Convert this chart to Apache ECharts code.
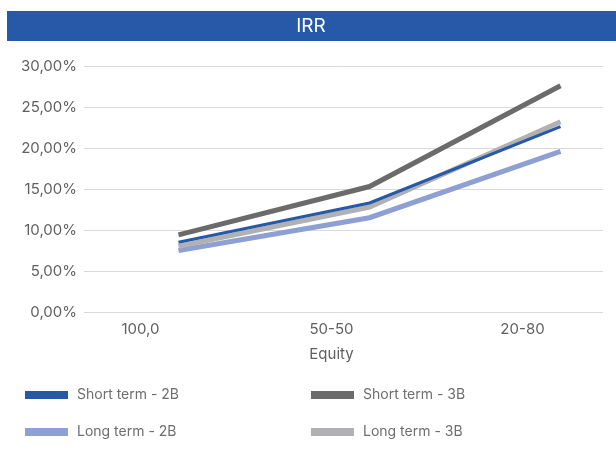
<!DOCTYPE html>
<html>
<head>
<meta charset="utf-8">
<script src="https://cdn.jsdelivr.net/npm/echarts@6/dist/echarts.min.js"></script>
<style>
  html, body { margin: 0; padding: 0; background: #fff; }
  #chart { width: 616px; height: 454px; }
</style>
</head>
<body>
<div id="chart"></div>
<script>
  // data, in percent
  const categories = ['100,0', '50-50', '20-80']
  const shortTerm2B = [8.5, 13.3, 22.6]
  const shortTerm3B = [9.4, 15.3, 27.6]
  const longTerm2B = [7.5, 11.5, 19.6]
  const longTerm3B = [8.0, 12.8, 23.2]
  const yTicks = { min: 0, max: 30, interval: 5 }

  const font = 'Inter'
  const ec = echarts.init(document.getElementById('chart'))

  const line = (name, data, color, width, z) => ({
    name: name,
    type: 'line',
    xAxisIndex: 1,
    yAxisIndex: 1,
    data: data,
    symbol: 'none',
    z: z,
    color: color,
    lineStyle: { color: color, width: width, cap: 'butt', join: 'miter' },
    itemStyle: { color: color }
  })

  const legendText = { color: '#6e6e6e', fontSize: 14, fontFamily: font, lineHeight: 18, padding: [0, 0, 0, 4] }

  ec.setOption({
    animation: false,
    graphic: [
      { type: 'rect', shape: { x: 7, y: 11, width: 609, height: 30 }, style: { fill: '#2659a8' } },
      { type: 'text', x: 311, y: 26, style: { text: 'IRR', fill: '#fff', font: '19px ' + font, align: 'center', verticalAlign: 'middle' } }
    ],
    grid: [
      { left: 84, width: 519, top: 66, height: 246, outerBoundsMode: 'none' },   // y axis + split lines
      { left: 83, width: 573, top: 66, height: 246, outerBoundsMode: 'none' },   // lines
      { left: 45, width: 573, top: 66, height: 246, outerBoundsMode: 'none' }    // category labels
    ],
    xAxis: [
      { gridIndex: 0, type: 'category', data: categories, show: false },
      { gridIndex: 1, type: 'category', data: categories, show: false },
      {
        gridIndex: 2, type: 'category', data: categories,
        axisLine: { show: false }, axisTick: { show: false },
        axisLabel: { color: '#5f5f5f', fontSize: 15, fontFamily: font, margin: 10 },
        name: 'Equity', nameLocation: 'middle', nameGap: 35,
        nameTextStyle: { color: '#5f5f5f', fontSize: 15, fontFamily: font }
      }
    ],
    yAxis: [
      {
        gridIndex: 0, type: 'value', min: yTicks.min, max: yTicks.max, interval: yTicks.interval,
        axisLine: { show: false }, axisTick: { show: false },
        axisLabel: {
          color: '#5f5f5f', fontSize: 15, fontFamily: font, margin: 7,
          formatter: v => v.toFixed(2).replace('.', ',') + '%'
        },
        splitLine: { lineStyle: { color: '#d9d9d9', width: 1 } }
      },
      { gridIndex: 1, type: 'value', min: yTicks.min, max: yTicks.max, show: false },
      { gridIndex: 2, type: 'value', min: yTicks.min, max: yTicks.max, show: false }
    ],
    legend: [
      {
        orient: 'vertical', left: 20, top: 381, icon: 'rect', itemWidth: 43, itemHeight: 8, itemGap: 19,
        textStyle: legendText,
        data: ['Short term - 2B', 'Long term - 2B']
      },
      {
        orient: 'vertical', left: 306, top: 381, icon: 'rect', itemWidth: 43, itemHeight: 8, itemGap: 19,
        textStyle: legendText,
        data: ['Short term - 3B', 'Long term - 3B']
      }
    ],
    series: [
      line('Long term - 2B', longTerm2B, '#8e9fd3', 5, 2),
      line('Long term - 3B', longTerm3B, '#b1b1b3', 5, 3),
      line('Short term - 2B', shortTerm2B, '#2659a8', 3, 4),
      line('Short term - 3B', shortTerm3B, '#6b6b6b', 5, 5)
    ]
  })
</script>
</body>
</html>
